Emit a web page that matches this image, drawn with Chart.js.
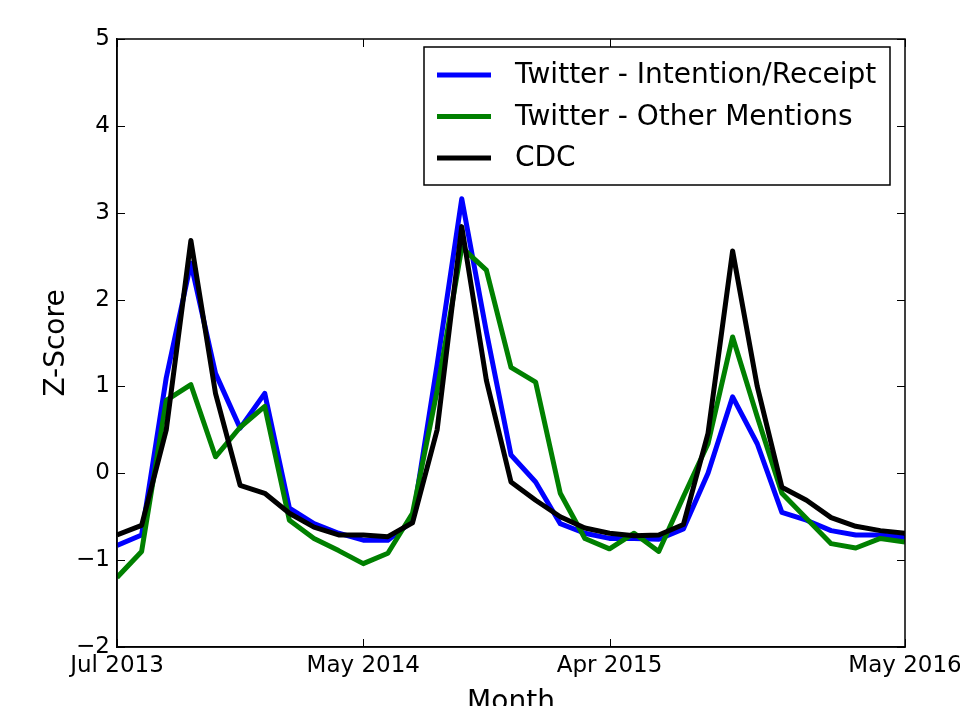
<!DOCTYPE html>
<html>
<head>
<meta charset="utf-8">
<script src="https://cdn.jsdelivr.net/npm/chart.js@4.4.1/dist/chart.umd.min.js"></script>
<style>
  html, body { margin: 0; padding: 0; background: #ffffff; }
  #c { display: block; }
</style>
</head>
<body>
<canvas id="c" width="960" height="706"></canvas>
<script>
// ---- data (index = observation number along the x axis) ----
const seriesLabels = ['Twitter - Intention/Receipt', 'Twitter - Other Mentions', 'CDC'];
const intentionReceipt = [-0.83, -0.71, 1.1, 2.42, 1.15, 0.52, 0.92, -0.4, -0.58, -0.69, -0.77,
  -0.77, -0.55, 1.25, 3.16, 1.63, 0.21, -0.1, -0.58, -0.69, -0.75, -0.75, -0.76, -0.64, 0.0,
  0.88, 0.34, -0.45, -0.54, -0.66, -0.71, -0.71, -0.74];
const otherMentions = [-1.2, -0.9, 0.84, 1.02, 0.19, 0.53, 0.77, -0.54, -0.75, -0.89, -1.04,
  -0.92, -0.46, 0.95, 2.6, 2.34, 1.22, 1.05, -0.23, -0.75, -0.87, -0.69, -0.9, -0.27, 0.34,
  1.57, 0.65, -0.23, -0.52, -0.81, -0.86, -0.75, -0.79];
const cdc = [-0.71, -0.6, 0.5, 2.68, 0.92, -0.14, -0.23, -0.46, -0.62, -0.71, -0.71, -0.73,
  -0.57, 0.5, 2.84, 1.07, -0.1, -0.31, -0.5, -0.63, -0.69, -0.72, -0.71, -0.59, 0.46, 2.56,
  1.0, -0.16, -0.31, -0.51, -0.61, -0.66, -0.69];
const xTickIndex = [0, 10, 20, 32];
const xTickLabels = ['Jul 2013', 'May 2014', 'Apr 2015', 'May 2016'];
const yTickValues = [-2, -1, 0, 1, 2, 3, 4, 5];
const xTitle = 'Month';
const yTitle = 'Z-Score';

const toPoints = arr => arr.map((v, i) => ({ x: i, y: v }));
const FONT = "'DejaVu Sans', sans-serif";

const bgPlugin = {
  id: 'bg',
  beforeDraw(chart) {
    const ctx = chart.ctx;
    ctx.save();
    ctx.fillStyle = '#ffffff';
    ctx.fillRect(0, 0, chart.width, chart.height);
    ctx.restore();
  }
};

const framePlugin = {
  id: 'frame',
  afterDraw(chart) {
    const { ctx, chartArea: a, scales } = chart;
    ctx.save();
    ctx.strokeStyle = '#000000';
    ctx.lineWidth = 1.5;
    ctx.strokeRect(a.left, a.top, a.right - a.left, a.bottom - a.top);
    ctx.lineWidth = 1;
    const L = 8;
    ctx.beginPath();
    yTickValues.forEach(v => {
      const y = Math.round(scales.y.getPixelForValue(v)) + 0.5;
      ctx.moveTo(a.left, y); ctx.lineTo(a.left + L, y);
      ctx.moveTo(a.right, y); ctx.lineTo(a.right - L, y);
    });
    xTickIndex.forEach(v => {
      const x = Math.round(scales.x.getPixelForValue(v)) + 0.5;
      ctx.moveTo(x, a.bottom); ctx.lineTo(x, a.bottom - L);
      ctx.moveTo(x, a.top); ctx.lineTo(x, a.top + L);
    });
    ctx.stroke();

    // legend box
    const bx = a.right - 15 - 466, by = a.top + 8, bw = 466, bh = 138;
    ctx.fillStyle = '#ffffff';
    ctx.fillRect(bx, by, bw, bh);
    ctx.lineWidth = 1.5;
    ctx.strokeRect(bx, by, bw, bh);
    ctx.font = "28px " + FONT;
    ctx.textBaseline = 'middle';
    ctx.textAlign = 'left';
    chart.data.datasets.forEach((ds, i) => {
      const y = by + 28 + i * 41.5;
      ctx.strokeStyle = ds.borderColor;
      ctx.lineWidth = 5;
      ctx.beginPath();
      ctx.moveTo(bx + 13, y);
      ctx.lineTo(bx + 67, y);
      ctx.stroke();
      ctx.fillStyle = '#000000';
      ctx.fillText(ds.label, bx + 91, y + 1);
    });
    ctx.restore();
  }
};

new Chart(document.getElementById('c'), {
  type: 'line',
  data: {
    datasets: [
      { label: seriesLabels[0], data: toPoints(intentionReceipt), borderColor: '#0000ff', order: 2 },
      { label: seriesLabels[1], data: toPoints(otherMentions), borderColor: '#008000', order: 1 },
      { label: seriesLabels[2], data: toPoints(cdc), borderColor: '#000000', order: 0 }
    ]
  },
  options: {
    responsive: false,
    animation: false,
    devicePixelRatio: 1,
    elements: {
      line: { borderWidth: 5, tension: 0, fill: false, borderJoinStyle: 'round', borderCapStyle: 'butt' },
      point: { radius: 0, hoverRadius: 0 }
    },
    layout: { padding: { top: 39, right: 55, left: 0, bottom: 0 }, autoPadding: false },
    plugins: { legend: { display: false }, tooltip: { enabled: false } },
    scales: {
      x: {
        type: 'linear', min: 0, max: 32,
        afterBuildTicks: s => { s.ticks = xTickIndex.map(v => ({ value: v })); },
        afterFit: s => { s.height = 59; s.paddingLeft = 0; s.paddingRight = 0; },
        ticks: {
          autoSkip: false, maxRotation: 0, padding: 5, color: '#000000',
          font: { family: FONT, size: 23 },
          callback: v => { const k = xTickIndex.indexOf(v); return k >= 0 ? xTickLabels[k] : ''; }
        },
        grid: { drawOnChartArea: false, drawTicks: false },
        border: { display: true, color: '#000000', width: 1.5 },
        title: { display: true, text: xTitle, color: '#000000', font: { family: FONT, size: 28 }, padding: { top: 0, bottom: -14 } }
      },
      y: {
        type: 'linear', min: -2, max: 5,
        afterBuildTicks: s => { s.ticks = yTickValues.map(v => ({ value: v })); },
        afterFit: s => { s.width = 117; s.paddingTop = 0; s.paddingBottom = 0; },
        ticks: {
          padding: 7, color: '#000000',
          font: { family: FONT, size: 23 },
          callback: v => (v < 0 ? '\u2212' + Math.abs(v) : String(v))
        },
        grid: { drawOnChartArea: false, drawTicks: false },
        border: { display: true, color: '#000000', width: 1.5 },
        title: { display: true, text: yTitle, color: '#000000', font: { family: FONT, size: 28 }, padding: { top: 40, bottom: 0 } }
      }
    }
  },
  plugins: [bgPlugin, framePlugin]
});
</script>
</body>
</html>
